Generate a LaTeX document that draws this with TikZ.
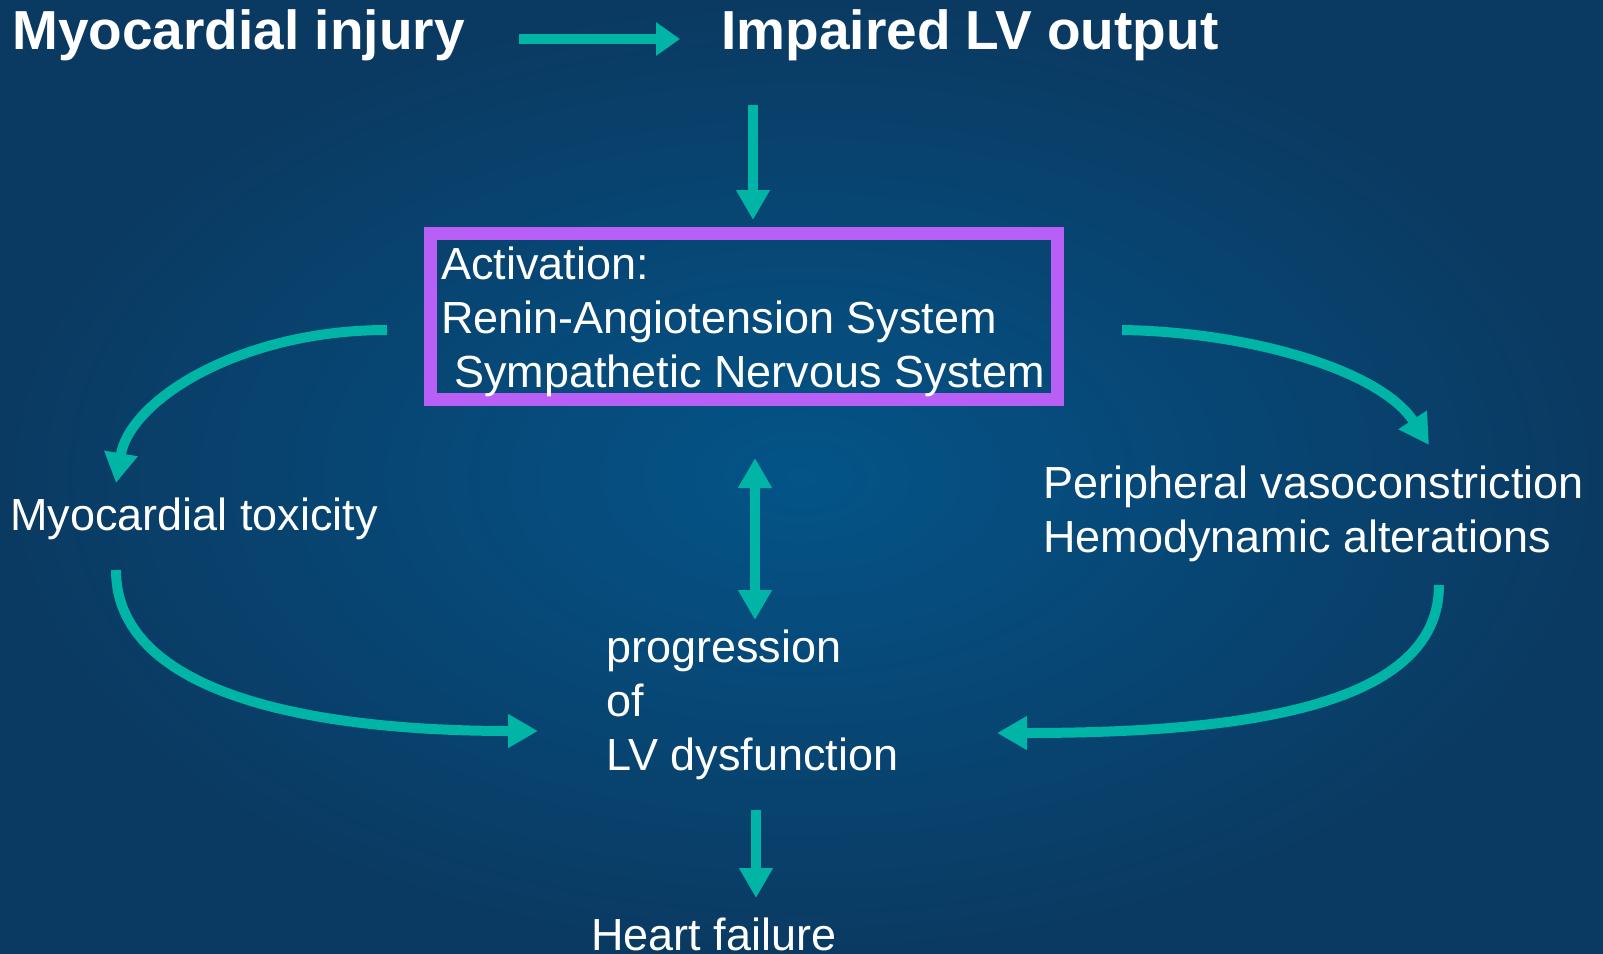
\documentclass[tikz,border=0pt]{standalone}
\usepackage{fontspec}
\setmainfont{Liberation Sans}
\usetikzlibrary{arrows.meta,positioning}
\definecolor{flowteal}{RGB}{0,181,165}
\definecolor{boxviolet}{RGB}{184,96,246}
\definecolor{bginner}{RGB}{4,84,136}
\definecolor{bgouter}{RGB}{10,58,98}
\tikzset{>={Triangle[length=15pt,width=16pt]}}
\tikzset{
  flow/.style={->,draw=flowteal,line width=5pt},
  txt/.style={text=white,inner sep=0pt,anchor=base west,align=left,font=\fontsize{22.5}{27}\selectfont},
  head/.style={text=white,inner sep=0pt,anchor=base west,font=\fontsize{27.5}{33}\selectfont\bfseries},
  actbox/.style={draw=boxviolet,line width=6.5pt,minimum width=313.5pt,minimum height=83pt,inner sep=0pt}
}
\begin{document}
\begin{tikzpicture}[x=0.5pt,y=-0.5pt]
        % background
        \shade[inner color=bginner,outer color=bgouter] (0,0) rectangle (1603,954);
        \useasboundingbox (0,0) rectangle (1603,954);
        % texts (multi-line ones sit on the baseline of their last line)
        \node[head] (inj) at (12,49) {Myocardial injury};
        \node[head] (lvout) at (721,49) {Impaired LV output};
        \node[actbox] (act) at (744,316.5) {};
        \node[txt] (acttxt) at (441,387) {Activation:\\Renin-Angiotension System\\\hspace*{6.5pt}Sympathetic Nervous System};
        \node[txt] (tox) at (10,530) {Myocardial toxicity};
        \node[txt] (peri) at (1043,552) {Peripheral vasoconstriction\\Hemodynamic alterations};
        \node[txt] (prog) at (606,770) {progression\\of\\LV dysfunction};
        \node[txt] (hf) at (591,950) {Heart failure};
        % arrow ends
        \coordinate (inj-out) at (519,39);
        \coordinate (lv-in) at (680,39);
        \coordinate (lv-out) at (753,105);
        \coordinate (act-in) at (753,220);
        \coordinate (act-left) at (387,330);
        \coordinate (tox-in) at (116,483);
        \coordinate (act-right) at (1122,330);
        \coordinate (peri-in) at (1429,445);
        \coordinate (tox-out) at (116,570);
        \coordinate (prog-left) at (538,731);
        \coordinate (peri-out) at (1439,585);
        \coordinate (prog-right) at (997,733);
        \coordinate (act-down) at (755,458);
        \coordinate (prog-up) at (755,620);
        \coordinate (prog-down) at (756,810);
        \coordinate (hf-in) at (756,898);
        % arrows
        \draw[flow,-{Triangle[length=12pt,width=16pt]}] (inj-out)--(lv-in);
        \draw[flow] (lv-out)--(act-in);
        \draw[flow] (act-left) .. controls (240,330) and (130,400) .. (tox-in);
        \draw[flow] (act-right) .. controls (1250,332) and (1380,370) .. (peri-in);
        \draw[flow] (tox-out) .. controls (116,690) and (300,731) .. (prog-left);
        \draw[flow] (peri-out) .. controls (1439,705) and (1250,733) .. (prog-right);
        \draw[flow,<->] (act-down)--(prog-up);
        \draw[flow] (prog-down)--(hf-in);
    \end{tikzpicture}
\end{document}
